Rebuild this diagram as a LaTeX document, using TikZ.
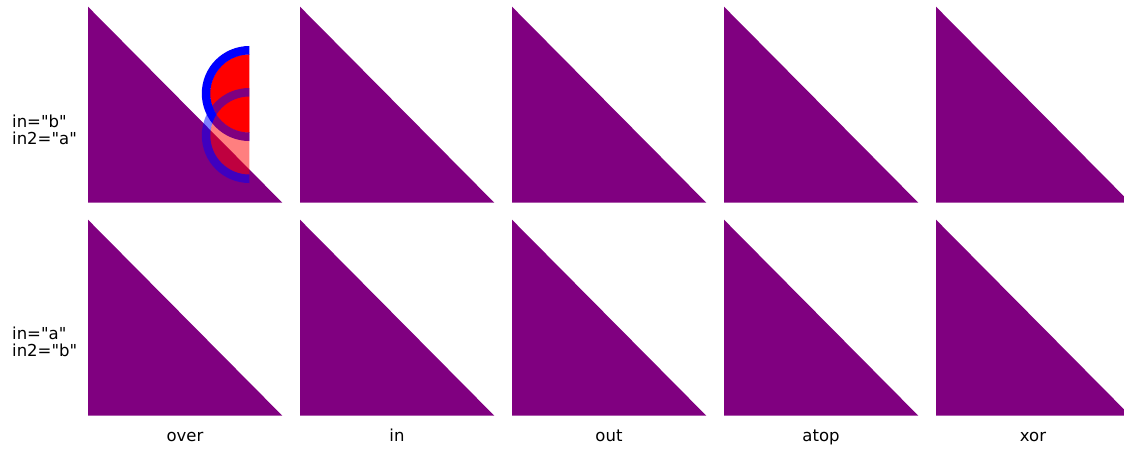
\documentclass[tikz,border=0pt]{standalone}
\usepackage{fontspec}
\setmainfont{DejaVu Sans}[Ligatures=TeXOff]
\definecolor{compfill}{HTML}{800080}

\tikzset{
	triangle/.style={fill=compfill},
	oplabel/.style={anchor=base,inner sep=0pt,font=\fontsize{16.5}{17}\selectfont},
	rowlabel/.style={anchor=north west,inner sep=0pt,align=left,font=\fontsize{16.5}{17}\selectfont}
}

\begin{document}
\begin{tikzpicture}[x=1pt,y=-1pt]
		
		\useasboundingbox (0,0) rectangle (1124,448);
		\clip (0,0) rectangle (1124,448);
		
		% first row: in="b", in2="a"
		\begin{scope}[xshift=88pt,yshift=-6.7pt]
			\fill [triangle] (0,0) -- (0,196) -- (194.3,196) -- cycle;
		\end{scope}
		
		\begin{scope}[xshift=300pt,yshift=-6.7pt]
			\fill [triangle] (0,0) -- (0,196) -- (194.3,196) -- cycle;
		\end{scope}
		
		\begin{scope}[xshift=512pt,yshift=-6.7pt]
			\fill [triangle] (0,0) -- (0,196) -- (194.3,196) -- cycle;
		\end{scope}
		
		\begin{scope}[xshift=724pt,yshift=-6.7pt]
			\fill [triangle] (0,0) -- (0,196) -- (194.3,196) -- cycle;
		\end{scope}
		
		\begin{scope}[xshift=936pt,yshift=-6.7pt]
			\fill [triangle] (0,0) -- (0,196) -- (194.3,196) -- cycle;
		\end{scope}
		
		% the two half discs on the first cell
		\begin{scope}
			\clip (190,40) rectangle (249.3,190);
			\fill [red] (249.3,93.5) circle (39.3pt);
			\draw [blue,line width=8.5pt] (249.3,93.5) circle (43.25pt);
			\fill [red,opacity=0.5] (249.3,135.5) circle (39pt);
			\draw [blue,line width=8.5pt,opacity=0.5] (249.3,135.5) circle (43.25pt);
		\end{scope}
		
		% second row: in="a", in2="b"
		\begin{scope}[xshift=88pt,yshift=-219.7pt]
			\fill [triangle] (0,0) -- (0,196) -- (194.3,196) -- cycle;
		\end{scope}
		
		\begin{scope}[xshift=300pt,yshift=-219.7pt]
			\fill [triangle] (0,0) -- (0,196) -- (194.3,196) -- cycle;
		\end{scope}
		
		\begin{scope}[xshift=512pt,yshift=-219.7pt]
			\fill [triangle] (0,0) -- (0,196) -- (194.3,196) -- cycle;
		\end{scope}
		
		\begin{scope}[xshift=724pt,yshift=-219.7pt]
			\fill [triangle] (0,0) -- (0,196) -- (194.3,196) -- cycle;
		\end{scope}
		
		\begin{scope}[xshift=936pt,yshift=-219.7pt]
			\fill [triangle] (0,0) -- (0,196) -- (194.3,196) -- cycle;
		\end{scope}
		
		\node[rowlabel] (rowba) at (12,115) {in="b"\\in2="a"};
		\node[rowlabel] (rowab) at (12,327) {in="a"\\in2="b"};
		
		\node[oplabel] (opover) at (185,441) {over};
		\node[oplabel] (opin)   at (397,441) {in};
		\node[oplabel] (opout)  at (609,441) {out};
		\node[oplabel] (opatop) at (821,441) {atop};
		\node[oplabel] (opxor)  at (1033,441) {xor};
		
	\end{tikzpicture}
\end{document}
